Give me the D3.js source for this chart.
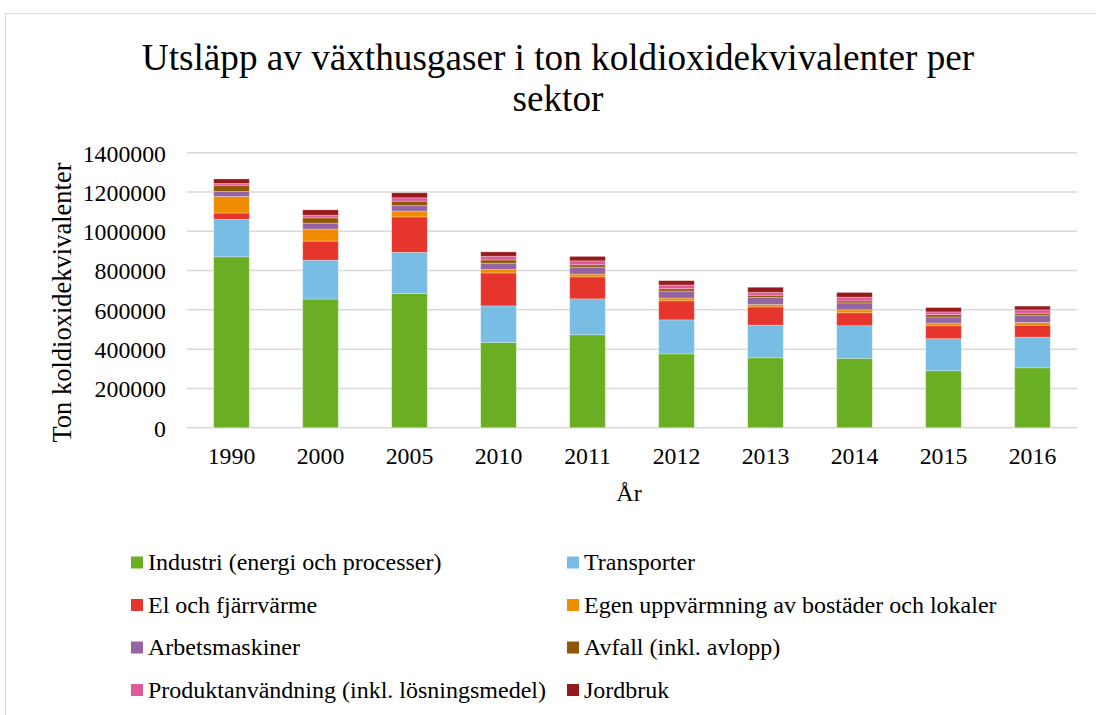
<!doctype html>
<html>
<head>
<meta charset="utf-8">
<script src="https://d3js.org/d3.v7.min.js"></script>
<style>
    body { margin: 0; background: #fff; }
    svg text { font-family: "Liberation Serif", "Times New Roman", serif; fill: #000; }
</style>
</head>
<body>
<svg width="1096" height="715"></svg>
<script>
    // data (ton CO2-ekv)
    var years = ["1990", "2000", "2005", "2010", "2011", "2012", "2013", "2014", "2015", "2016"];
    var sectors = [
        "Industri (energi och processer)",
        "Transporter",
        "El och fjärrvärme",
        "Egen uppvärmning av bostäder och lokaler",
        "Arbetsmaskiner",
        "Avfall (inkl. avlopp)",
        "Produktanvändning (inkl. lösningsmedel)",
        "Jordbruk"
    ];
    var colors = ["#6aaf23", "#77bde4", "#e6352d", "#f18b00", "#9464a3", "#8f5806", "#df5a9a", "#971a1a"];

    var industri     = [870000, 655000, 683000, 434000, 473000, 376000, 356000, 353000, 290000, 305000];
    var transporter  = [191000, 198000, 210000, 186000, 183000, 173000, 166000, 166000, 163000, 156000];
    var elFjarrvarme = [ 32000,  97000, 180000, 168000, 112000,  97000,  93000,  66000,  66000,  61000];
    var egenUppv     = [ 84000,  61000,  30000,  17000,  14000,  14000,  12000,  15000,  14000,  14000];
    var arbetsmask   = [ 25500,  30500,  27500,  32000,  35500,  35500,  35500,  35500,  30500,  37000];
    var avfall       = [ 32000,  27000,  23000,  17000,  12000,  12000,  12000,  10000,  12000,  10000];
    var produkt      = [  8500,  13500,  17000,  19000,  20000,  19000,  15000,  19000,  14000,  17000];
    var jordbruk     = [ 23500,  27000,  25500,  22000,  22500,  22000,  25500,  24000,  22000,  19000];

    var yTicks = [0, 200000, 400000, 600000, 800000, 1000000, 1200000, 1400000];

    var series = [industri, transporter, elFjarrvarme, egenUppv, arbetsmask, avfall, produkt, jordbruk];

    var rows = years.map(function(yr, i) {
        var r = { year: yr };
        sectors.forEach(function(s, k) { r[s] = series[k][i]; });
        return r;
    });

    var svg = d3.select("svg");

    // chart border
    svg.append("rect")
       .attr("x", 5.5).attr("y", 13.5)
       .attr("width", 1200).attr("height", 800)
       .attr("fill", "none")
       .attr("stroke", "#d9d9d9");

    svg.append("text")
       .attr("x", 558).attr("y", 70)
       .attr("text-anchor", "middle")
       .attr("font-size", "37.2px")
       .text("Utsläpp av växthusgaser i ton koldioxidekvivalenter per");
    svg.append("text")
       .attr("x", 558).attr("y", 111)
       .attr("text-anchor", "middle")
       .attr("font-size", "37.2px")
       .text("sektor");

    var plotLeft = 187, plotRight = 1077, plotTop = 152.7, plotBottom = 427.7;

    var x = d3.scaleBand().domain(years).range([plotLeft, plotRight])
              .paddingInner(0.6).paddingOuter(0.3);
    var y = d3.scaleLinear().domain([0, 1400000]).range([plotBottom, plotTop]);

    // gridlines
    svg.append("g").selectAll("line")
       .data(yTicks)
       .enter().append("line")
       .attr("x1", plotLeft).attr("x2", plotRight)
       .attr("y1", function(d) { return y(d); })
       .attr("y2", function(d) { return y(d); })
       .attr("stroke", "#d9d9d9")
       .attr("stroke-width", 1.5);

    var yAxis = svg.append("g")
       .attr("transform", "translate(" + (plotLeft - 21) + ",0)")
       .call(d3.axisLeft(y).tickValues(yTicks).tickSize(0).tickPadding(0).tickFormat(d3.format("d")));
    yAxis.select(".domain").remove();
    yAxis.selectAll("text")
         .attr("font-size", "23.8px")
         .attr("font-family", "Liberation Serif, serif")
         .attr("dy", "0.35em");

    var xAxis = svg.append("g")
       .attr("transform", "translate(0," + plotBottom + ")")
       .call(d3.axisBottom(x).tickSize(0).tickPadding(19));
    xAxis.select(".domain").remove();
    xAxis.selectAll("text")
         .attr("font-size", "23.8px")
         .attr("font-family", "Liberation Serif, serif");

    svg.append("text")
       .attr("transform", "translate(71,302.5) rotate(-90)")
       .attr("text-anchor", "middle")
       .attr("font-size", "26.5px")
       .text("Ton koldioxidekvivalenter");

    svg.append("text")
       .attr("x", (plotLeft + plotRight) / 2 - 3).attr("y", 501)
       .attr("text-anchor", "middle")
       .attr("font-size", "24px")
       .text("År");

    var stack = d3.stack().keys(sectors)(rows);

    svg.append("g").selectAll("g")
       .data(stack)
       .enter().append("g")
       .attr("fill", function(d, i) { return colors[i]; })
       .selectAll("rect")
       .data(function(d) { return d; })
       .enter().append("rect")
       .attr("x", function(d) { return x(d.data.year); })
       .attr("y", function(d) { return y(d[1]); })
       .attr("width", x.bandwidth())
       .attr("height", function(d) { return y(d[0]) - y(d[1]); })
       .attr("stroke", "#fff")
       .attr("stroke-opacity", 0.35)
       .attr("stroke-width", 0.8);

    // legend, two columns
    var legend = svg.append("g").selectAll("g")
       .data(sectors)
       .enter().append("g")
       .attr("transform", function(d, i) {
           return "translate(" + (i % 2 === 0 ? 131 : 567) + "," + (562.5 + Math.floor(i / 2) * 42.5) + ")";
       });
    legend.append("rect")
       .attr("x", 0).attr("y", -6)
       .attr("width", 12).attr("height", 12)
       .attr("fill", function(d, i) { return colors[i]; });
    legend.append("text")
       .attr("x", 17).attr("y", 7.5)
       .attr("font-size", "24px")
       .text(function(d) { return d; });
</script>
</body>
</html>
